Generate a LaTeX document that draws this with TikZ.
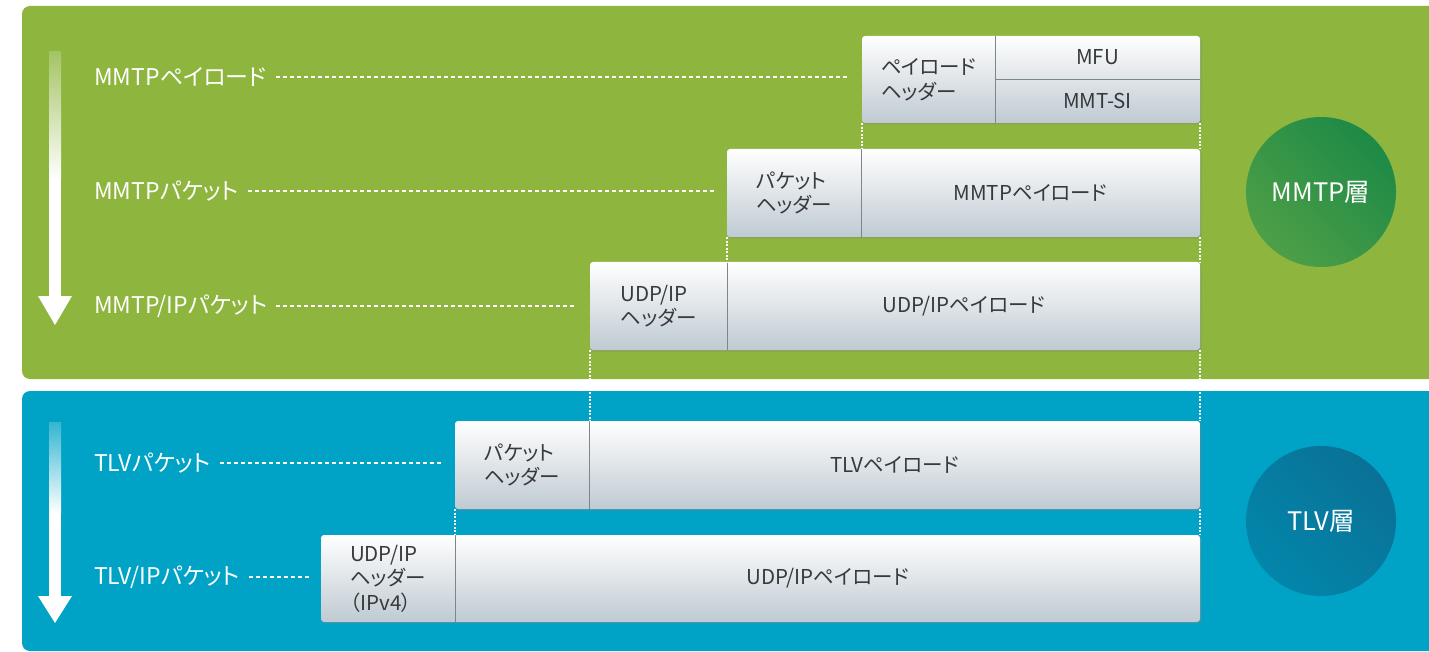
\documentclass[tikz,border=0pt]{standalone}
\usepackage{fontspec}
\setmainfont{Noto Sans CJK JP}[RawFeature=+palt]
\usetikzlibrary{shadows}
\definecolor{greenbg}{HTML}{8EB53E}
\definecolor{bluebg}{HTML}{00A3C6}
\definecolor{boxbot}{HTML}{BFCAD2}
\definecolor{divgray}{HTML}{7C868C}
\definecolor{txtgray}{HTML}{363A3D}
\definecolor{gcdark}{HTML}{1D8A47}
\definecolor{gclight}{HTML}{4E9F47}
\definecolor{bcdark}{HTML}{0A7196}
\definecolor{bclight}{HTML}{0386AB}
\tikzset{
  pktbg/.style={rounded corners=3pt, top color=white, bottom color=boxbot,
    drop shadow={shadow xshift=1.5pt, shadow yshift=-1.5pt, opacity=0.35}},
  cell/.style={inner sep=0pt, text=txtgray, font=\fontsize{20.5}{24.5}\selectfont, align=left},
  lab/.style={text=white, font=\fontsize{23}{26}\selectfont, anchor=west, inner sep=0pt},
  dashline/.style={white, line width=1.2pt, dash pattern=on 4pt off 3pt},
  dotline/.style={white, line width=2pt, dash pattern=on 2pt off 1.5pt},
  divline/.style={divgray, line width=1.2pt},
  layer/.style={circle, minimum size=150pt, inner sep=0pt, text=white,
    font=\fontsize{25.5}{28}\selectfont},
}
\begin{document}
\begin{tikzpicture}[x=1pt,y=-1pt]
\useasboundingbox (0,0) rectangle (1429,652);
\fill[white] (0,0) rectangle (1429,652);
% panels
\fill[greenbg, rounded corners=8pt] (22,6) rectangle (1470,379);
\fill[bluebg, rounded corners=8pt] (22,391) rectangle (1470,651);

% arrows
\shade[top color=greenbg!80!white, bottom color=white] (49,52) rectangle (61,180);
\fill[white] (49,179.5) rectangle (61,297);
\fill[white] (38,296) -- (72,296) -- (55,325) -- cycle;
\shade[top color=bluebg!80!white, bottom color=white] (49,422) rectangle (61,513);
\fill[white] (49,512.5) rectangle (61,597);
\fill[white] (38,596) -- (72,596) -- (55,623) -- cycle;

% packet backgrounds
\path[pktbg] (862,36) rectangle (1200,123);
\path[pktbg] (727,149) rectangle (1200,237);
\path[pktbg] (590,262) rectangle (1200,350);
\path[pktbg] (455,421) rectangle (1200,509);
\path[pktbg] (321,535) rectangle (1200,622);

% row 1
\node[cell, minimum width=133pt, minimum height=87pt] (h1) at (928.5,79.5) {};
\node[cell] (h1t) at (h1.center) {ペイロード\\ヘッダー};
\node[cell, minimum width=205pt, minimum height=43pt, align=center] (mfu) at (1097.5,57.5) {MFU};
\node[cell, minimum width=205pt, minimum height=44pt, align=center] (mmtsi) at (1097.5,101) {MMT-SI};
\draw[divline] (h1.north east) -- (h1.south east);
\draw[divline] (mfu.south west) -- (mfu.south east);

% row 2
\node[cell, minimum width=134pt, minimum height=88pt] (h2) at (794,193) {};
\node[cell] (h2t) at (h2.center) {パケット\\ヘッダー};
\node[cell, minimum width=339pt, minimum height=88pt, align=center] (p2) at (1030.5,193) {MMTPペイロード};
\draw[divline] (h2.north east) -- (h2.south east);

% row 3
\node[cell, minimum width=137pt, minimum height=88pt] (h3) at (658.5,306) {};
\node[cell] (h3t) at (h3.center) {UDP/IP\\ヘッダー};
\node[cell, minimum width=473pt, minimum height=88pt, align=center] (p3) at (963.5,306) {UDP/IPペイロード};
\draw[divline] (h3.north east) -- (h3.south east);

% row 4
\node[cell, minimum width=134pt, minimum height=88pt] (h4) at (522,465) {};
\node[cell] (h4t) at (h4.center) {パケット\\ヘッダー};
\node[cell, minimum width=611pt, minimum height=88pt, align=center] (p4) at (894.5,465) {TLVペイロード};
\draw[divline] (h4.north east) -- (h4.south east);

% row 5
\node[cell, minimum width=134pt, minimum height=87pt] (h5) at (388,578.5) {};
\node[cell] (h5t) at (h5.center) {UDP/IP\\ヘッダー\\（IPv4）};
\node[cell, minimum width=745pt, minimum height=87pt, align=center] (p5) at (827.5,578.5) {UDP/IPペイロード};
\draw[divline] (h5.north east) -- (h5.south east);

% labels
\node[lab] (lab1) at (94,77) {MMTPペイロード};
\node[lab] (lab2) at (94,191) {MMTPパケット};
\node[lab] (lab3) at (94,306) {MMTP/IPパケット};
\node[lab] (lab4) at (94,463) {TLVパケット};
\node[lab] (lab5) at (94,577) {TLV/IPパケット};

\draw[dashline, shorten <=9pt, shorten >=14pt] (lab1.east) -- (lab1.east -| h1.west);
\draw[dashline, shorten <=9pt, shorten >=12pt] (lab2.east) -- (lab2.east -| h2.west);
\draw[dashline, shorten <=9pt, shorten >=13pt] (lab3.east) -- (lab3.east -| h3.west);
\draw[dashline, shorten <=9pt, shorten >=14pt] (lab4.east) -- (lab4.east -| h4.west);
\draw[dashline, shorten <=9pt, shorten >=11pt] (lab5.east) -- (lab5.east -| h5.west);

% dotted guides
\draw[dotline] (h1.south west) -- (h1.south west |- h2.north);
\draw[dotline] (mmtsi.south east) -- (mmtsi.south east |- p2.north);
\draw[dotline] (h2.south west) -- (h2.south west |- h3.north);
\draw[dotline] (p2.south east) -- (p2.south east |- p3.north);
\draw[dotline] (h3.south west) -- (h3.south west |- h4.north);
\draw[dotline] (p3.south east) -- (p3.south east |- p4.north);
\draw[dotline] (h4.south west) -- (h4.south west |- h5.north);
\draw[dotline] (p4.south east) -- (p4.south east |- p5.north);
\fill[white] (22,379.5) rectangle (1429,390.5);

% layer circles
\node[layer, top color=gcdark, bottom color=gclight, shading angle=-45] (mmtp) at (1321,192) {MMTP層};
\node[layer, top color=bcdark, bottom color=bclight, shading angle=-45] (tlv) at (1321,521) {TLV層};
\end{tikzpicture}
\end{document}
